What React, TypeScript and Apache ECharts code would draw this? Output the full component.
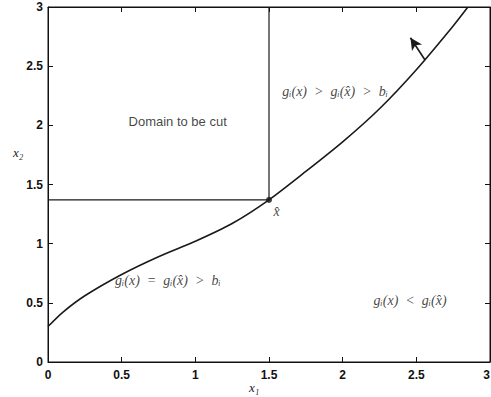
import React, { useEffect, useRef } from "react";
import * as echarts from "echarts";

const curveX = [0, 0.1, 0.25, 0.5, 0.75, 1.0, 1.25, 1.5, 1.75, 2.0, 2.25, 2.5, 2.75, 2.85];
const curveY = [0.3, 0.42, 0.56, 0.74, 0.89, 1.02, 1.17, 1.37, 1.61, 1.86, 2.14, 2.47, 2.84, 3.0];
const xHat = [1.5, 1.37];
const boxPath = [[0, 1.37], [1.5, 1.37], [1.5, 3]];
const arrowFrom = [2.56, 2.55];
const arrowTo = [2.46, 2.74];

const serifFont = "'Liberation Serif', 'DejaVu Serif', serif";
const sansFont = "'Liberation Sans', Arial, sans-serif";

const annotations = [
  { pos: [0.88, 2.03], text: "Domain to be cut", sans: true, align: "center" },
  { pos: [1.59, 2.29], text: "gᵢ(x)  >  gᵢ(x̂)  >  bᵢ", sans: false, align: "left" },
  { pos: [0.455, 0.69], text: "gᵢ(x)  =  gᵢ(x̂)  >  bᵢ", sans: false, align: "left" },
  { pos: [2.21, 0.52], text: "gᵢ(x)  <  gᵢ(x̂)", sans: false, align: "left" },
  { pos: [1.53, 1.27], text: "x̂", sans: false, align: "left" },
];

export default function App() {
  const ref = useRef<HTMLDivElement>(null);
  useEffect(() => {
    const chart = echarts.init(ref.current!, null, { renderer: "svg" });
    const axisCommon = {
      type: "value" as const,
      min: 0,
      max: 3,
      interval: 0.5,
      axisLine: { show: true, onZero: false, lineStyle: { color: "#111", width: 1 } },
      axisTick: { show: true, inside: true, length: 5, lineStyle: { color: "#111" } },
      splitLine: { show: false },
    };
    const labelStyle = {
      color: "#111",
      fontFamily: sansFont,
      fontSize: 12,
      fontWeight: "bold" as const,
      formatter: (v: number) => String(v),
    };
    chart.setOption({
      animation: false,
      backgroundColor: "#fff",
      grid: {
        left: 48,
        right: 1,
        top: 7,
        bottom: 35,
        containLabel: false,
        outerBoundsMode: "none",
        show: true,
        borderColor: "#111",
        borderWidth: 1,
        backgroundColor: "transparent",
      },
      xAxis: [
        {
          ...axisCommon,
          gridIndex: 0,
          position: "bottom",
          axisLabel: { ...labelStyle, margin: 7, showMaxLabel: true, alignMaxLabel: "right" },
        },
        { ...axisCommon, gridIndex: 0, position: "top", axisLabel: { show: false } },
      ],
      yAxis: [
        { ...axisCommon, gridIndex: 0, position: "left", axisLabel: { ...labelStyle, margin: 5 } },
        { ...axisCommon, gridIndex: 0, position: "right", axisLabel: { show: false } },
      ],
      graphic: [
        {
          type: "text",
          left: 13,
          top: 146,
          style: { text: "x₂", font: `italic 13px ${serifFont}`, fill: "#222" },
        },
        {
          type: "text",
          left: 249,
          top: 381,
          style: { text: "x₁", font: `italic 13px ${serifFont}`, fill: "#222" },
        },
      ],
      series: [
        {
          type: "line",
          data: curveX.map((x, i) => [x, curveY[i]]),
          smooth: 0.25,
          showSymbol: false,
          lineStyle: { color: "#1a1a1a", width: 1.6 },
          silent: true,
          markLine: {
            silent: true,
            symbol: ["none", "arrow"],
            symbolSize: [9, 12],
            label: { show: false },
            lineStyle: { color: "#1a1a1a", width: 1.6, type: "solid" },
            data: [[{ coord: arrowFrom }, { coord: arrowTo }]],
          },
        },
        {
          type: "line",
          data: boxPath,
          showSymbol: false,
          lineStyle: { color: "#1a1a1a", width: 1.2 },
          silent: true,
        },
        {
          type: "scatter",
          data: [xHat],
          symbolSize: 6,
          itemStyle: { color: "#111" },
          silent: true,
        },
        {
          type: "scatter",
          symbolSize: 0,
          silent: true,
          data: annotations.map((a) => ({
            value: a.pos,
            label: {
              show: true,
              position: "inside",
              align: a.align,
              verticalAlign: "middle",
              formatter: a.text,
              color: "#111",
              fontFamily: a.sans ? sansFont : serifFont,
              fontStyle: a.sans ? "normal" : "italic",
              fontSize: a.sans ? 13 : 14,
            },
          })),
        },
      ],
    });
    return () => chart.dispose();
  }, []);
  return (
    <div
      ref={ref}
      style={{ position: "fixed", left: 0, top: 0, width: 491, height: 397, background: "#fff" }}
    />
  );
}
